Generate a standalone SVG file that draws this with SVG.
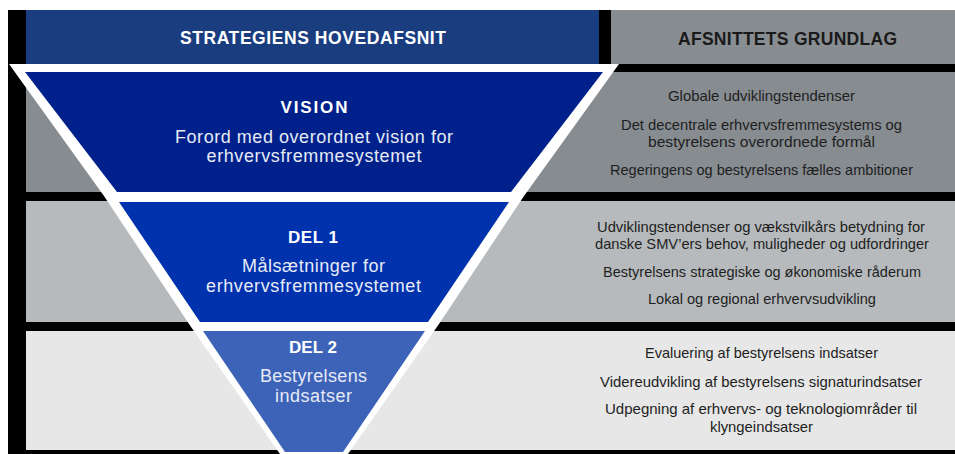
<svg xmlns="http://www.w3.org/2000/svg" width="955" height="454" viewBox="0 0 955 454">
<style>
.hd{font-family:"Liberation Sans",Arial,sans-serif;font-weight:bold;font-size:17.5px;text-anchor:middle}
.tt{font-family:"Liberation Sans",Arial,sans-serif;font-weight:bold;font-size:17px;fill:#ffffff;text-anchor:middle}
.st{font-family:"Liberation Sans",Arial,sans-serif;font-size:18px;fill:#e6ebf6;text-anchor:middle}
.rt{font-family:"Liberation Sans",Arial,sans-serif;font-size:15px;fill:#1e1e1e;text-anchor:middle}
.edge{fill:#ffffff}
</style>
<rect x="8" y="10" width="947" height="444" fill="#000000"/>
<g id="header-left">
<rect x="26" y="10" width="573" height="54" fill="#1a3d80"/>
<text class="hd" x="313" y="44" fill="#ffffff" textLength="266">STRATEGIENS HOVEDAFSNIT</text>
</g>
<g id="header-right">
<rect x="611" y="10" width="344" height="54" fill="#888d92"/>
<text class="hd" x="787.5" y="45" fill="#1a1a1a" textLength="219">AFSNITTETS GRUNDLAG</text>
</g>
<g id="row-vision-basis">
<rect x="26" y="72" width="929" height="120" fill="#878c91"/>
<text class="rt" x="761.5" y="100.5" textLength="187" lengthAdjust="spacingAndGlyphs">Globale udviklingstendenser</text>
<text class="rt" x="761.5" y="129.5" textLength="281" lengthAdjust="spacingAndGlyphs">Det decentrale erhvervsfremmesystems og</text>
<text class="rt" x="761.5" y="147" textLength="227" lengthAdjust="spacingAndGlyphs">bestyrelsens overordnede formål</text>
<text class="rt" x="761.5" y="175" textLength="303" lengthAdjust="spacingAndGlyphs">Regeringens og bestyrelsens fælles ambitioner</text>
</g>
<g id="row-del1-basis">
<rect x="26" y="201" width="929" height="121" fill="#b6babc"/>
<text class="rt" x="761" y="231.5" textLength="328" lengthAdjust="spacingAndGlyphs">Udviklingstendenser og vækstvilkårs betydning for</text>
<text class="rt" x="762" y="249" textLength="334" lengthAdjust="spacingAndGlyphs">danske SMV’ers behov, muligheder og udfordringer</text>
<text class="rt" x="762" y="277" textLength="318" lengthAdjust="spacingAndGlyphs">Bestyrelsens strategiske og økonomiske råderum</text>
<text class="rt" x="762" y="304" textLength="228" lengthAdjust="spacingAndGlyphs">Lokal og regional erhvervsudvikling</text>
</g>
<g id="row-del2-basis">
<rect x="26" y="331" width="929" height="119" fill="#e6e7e6"/>
<text class="rt" x="761.5" y="358" textLength="233" lengthAdjust="spacingAndGlyphs">Evaluering af bestyrelsens indsatser</text>
<text class="rt" x="761" y="387" textLength="322" lengthAdjust="spacingAndGlyphs">Videreudvikling af bestyrelsens signaturindsatser</text>
<text class="rt" x="761" y="414" textLength="312" lengthAdjust="spacingAndGlyphs">Udpegning af erhvervs- og teknologiområder til</text>
<text class="rt" x="761.5" y="432" textLength="103" lengthAdjust="spacingAndGlyphs">klyngeindsatser</text>
</g>
<g id="funnel-outline">
<polygon class="edge" points="9,64 619,64 524,196 439,324 348,454 280,454 189,324 104,196"/>
</g>
<g id="vision">
<polygon points="25,72 603,72 511,192 117,192" fill="#00218b"/>
<text class="tt" x="314" y="113" textLength="67">VISION</text>
<text class="st" x="314" y="142.5" textLength="278">Forord med overordnet vision for</text>
<text class="st" x="314" y="162" textLength="215">erhvervsfremmesystemet</text>
</g>
<g id="del1">
<polygon points="119,202 509,202 428,322 200,322" fill="#0032ad"/>
<text class="tt" x="313" y="243" textLength="50">DEL 1</text>
<text class="st" x="313.5" y="271.5" textLength="143">Målsætninger for</text>
<text class="st" x="313.5" y="291.5" textLength="215">erhvervsfremmesystemet</text>
</g>
<g id="del2">
<polygon points="203,331 425,331 343,452 285,452" fill="#3d63b8"/>
<text class="tt" x="313" y="353" textLength="48">DEL 2</text>
<text class="st" x="313.5" y="381.5" textLength="107">Bestyrelsens</text>
<text class="st" x="313.5" y="401.5" textLength="77">indsatser</text>
</g>
</svg>
